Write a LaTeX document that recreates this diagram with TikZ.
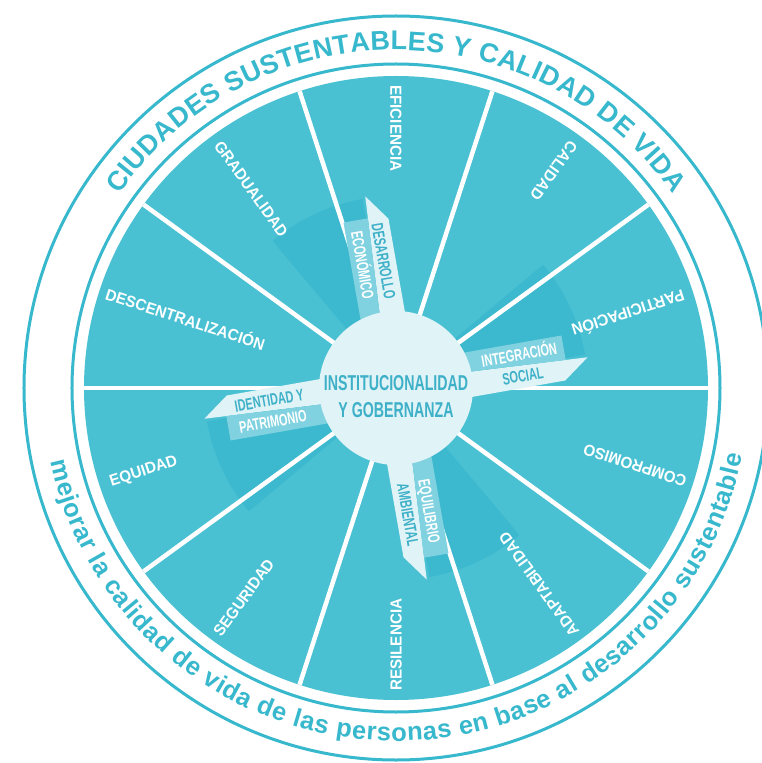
\documentclass[tikz,border=0pt]{standalone}
\usepackage{fontspec}
\setmainfont{Liberation Sans}
\newfontfamily\narrowsans[FakeStretch=0.66]{Liberation Sans}
\newfontfamily\labelsans[FakeStretch=0.95]{Liberation Sans}
\usepackage{xcolor}
\usetikzlibrary{decorations.text}

\definecolor{wheelteal}{RGB}{74,193,211}
\definecolor{ringteal}{RGB}{56,184,205}
\definecolor{shadeteal}{RGB}{30,168,195}
\definecolor{ribbonmid}{RGB}{128,210,224}
\definecolor{ribbonpale}{RGB}{224,243,246}
\definecolor{hubteal}{RGB}{62,176,200}

\begin{document}
\begin{tikzpicture}[x=1pt, y=1pt,
  sector/.style={text=white, font=\labelsans\bfseries\fontsize{16}{18}\selectfont, inner sep=0pt, anchor=west, text height=11.4pt, text depth=0pt},
  spoke/.style={white, line width=4.5pt},
  ring/.style={draw=ringteal, line width=3pt},
  ribbonlabel/.style={font=\narrowsans\bfseries\fontsize{16.5}{18}\selectfont, inner sep=0pt, text height=11.8pt, text depth=0pt},
  hub/.style={circle, fill=ribbonpale, minimum size=154pt, inner sep=0pt},
  hubtext/.style={text=hubteal, align=center, font=\narrowsans\bfseries\fontsize{21.5}{27}\selectfont},
]
\useasboundingbox (-396,-375) rectangle (366,388);
\fill[white] (-396,-375) rectangle (366,388);

% Outer band
\draw[ring] (0,0) circle[radius=372];
\draw[ring] (0,0) circle[radius=324];
\fill[wheelteal] (0,0) circle[radius=312];

% Shadows behind the ribbons
\foreach \a in {10,100,190,280}
  \fill[shadeteal, opacity=0.3] (0,0) -- (\a:192) arc[start angle=\a, end angle=\a+30, radius=192] -- cycle;

% Spokes
\foreach \a in {0,36,...,324}
  \draw[spoke] (0,0) -- (\a:312);

% Sector labels (read from the rim inwards)
\node[sector, rotate=270] (eficiencia) at (90:303) {EFICIENCIA};
\node[sector, rotate=234] (calidad) at (54:303) {CALIDAD};
\node[sector, rotate=198] (participacion) at (18:303) {PARTICIPACIÓN};
\node[sector, rotate=162] (compromiso) at (342:305) {COMPROMISO};
\node[sector, rotate=126] (adaptabilidad) at (306:305) {ADAPTABILIDAD};
\node[sector, rotate=90] (resilencia) at (270:303) {RESILENCIA};
\node[sector, rotate=54] (seguridad) at (234:305) {SEGURIDAD};
\node[sector, rotate=18] (equidad) at (198:301) {EQUIDAD};
\node[sector, rotate=342] (descentralizacion) at (162:305) {DESCENTRALIZACIÓN};
\node[sector, rotate=306] (gradualidad) at (126:303) {GRADUALIDAD};

% Ribbons
\foreach \ang/\rot/\paletext/\midtext [count=\i] in {10/10/SOCIAL/INTEGRACIÓN, 100/-80/DESARROLLO/ECONÓMICO, 190/10/IDENTIDAD Y/PATRIMONIO, 280/-80/AMBIENTAL/EQUILIBRIO} {
  \begin{scope}[rotate=\ang]
    \fill[ribbonpale] (60,-22) -- (168,-22) -- (194,-3) -- (60,4) -- cycle;
    \fill[ribbonmid] (60,4) -- (172,-1.8) -- (172,23) -- (60,23) -- cycle;
    \node[ribbonlabel, text=hubteal, rotate=\rot] (pale\i) at (127,-10) {\paletext};
    \node[ribbonlabel, text=white, rotate=\rot] (mid\i) at (127,11.5) {\midtext};
  \end{scope}
}

% Hub
\node[hub] (centre) at (0,0) {};
\node[hubtext] (hubtitle) at (0,-9) {INSTITUCIONALIDAD\\Y GOBERNANZA};

% Ring texts
\path[decorate, decoration={text along path, text color=ringteal, text align={fit to path},
  text={|\bfseries\fontsize{27}{30}\selectfont|CIUDADES SUSTENTABLES Y CALIDAD DE VIDA}}]
  (145:338) arc[start angle=145, end angle=35, radius=338];
\path[decorate, decoration={text along path, text color=ringteal, text align={fit to path},
  text={|\bfseries\fontsize{25.5}{28}\selectfont|mejorar la calidad de vida de las personas en base al desarrollo sustentable}}]
  (192:353) arc[start angle=192, end angle=349, radius=353];

\end{tikzpicture}
\end{document}
